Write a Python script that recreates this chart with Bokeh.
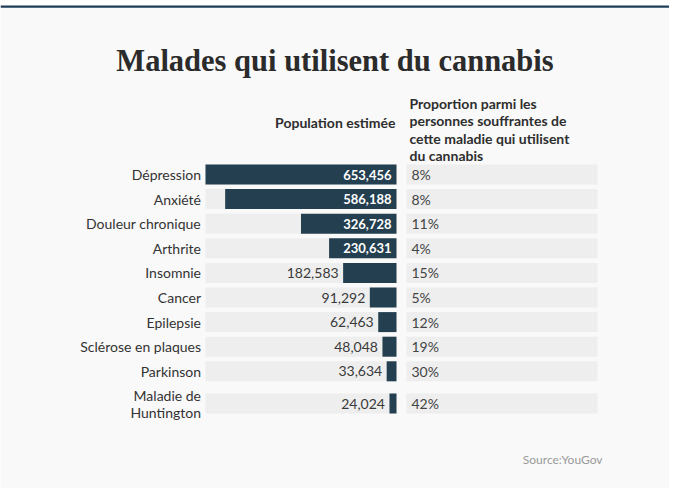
from bokeh.plotting import figure
from bokeh.models import Range1d
from bokeh.core.properties import value
from bokeh.embed import file_html
from bokeh.resources import INLINE

# ---- data ----
categories = ["Dépression", "Anxiété", "Douleur chronique", "Arthrite", "Insomnie",
              "Cancer", "Epilepsie", "Sclérose en plaques", "Parkinson",
              "Maladie de\nHuntington"]
population = [653456, 586188, 326728, 230631, 182583, 91292, 62463, 48048, 33634, 24024]
proportion = [8, 8, 11, 4, 15, 5, 12, 19, 30, 42]
title = "Malades qui utilisent du cannabis"
header_left = "Population estimée"
header_right = ["Proportion parmi les", "personnes souffrantes de",
                "cette maladie qui utilisent", "du cannabis"]
source = "Source:YouGov"

# ---- layout (pixel positions inside the figure) ----
W, H = 669, 488
zero_px = 396          # where bars end (value 0)
bar_px = 191           # pixel length of the largest bar
vmax = max(population)
ppu = bar_px / vmax


def xd(px):
    """pixel x -> data x (reversed value axis)"""
    return (zero_px - px) / ppu


p = figure(width=W, height=H, output_backend="svg", toolbar_location=None,
           x_range=Range1d(xd(0), xd(W)), y_range=Range1d(H, 0),
           min_border=0, min_border_left=0, min_border_right=0,
           min_border_top=0, min_border_bottom=0)
p.axis.visible = False
p.grid.visible = False
p.outline_line_color = None
p.background_fill_color = "#f9f9f9"
p.border_fill_color = "#f9f9f9"

FONT = value("Lato")
DARK = "#333333"
BAR = "#243f4f"
BG = "#eeeeee"

# white strip above the top rule, then the rule
p.quad(left=[xd(0)], right=[xd(W)], top=[0], bottom=[5],
       fill_color="white", line_color=None)
p.quad(left=[xd(0)], right=[xd(W)], top=[5], bottom=[7.2],
       fill_color="#1f3d58", line_color=None)

# title
p.text(x=[xd(334.5)], y=[60], text=[title], text_font=value("Liberation Serif"),
       text_font_style="bold", text_font_size="30.5px", text_align="center",
       text_baseline="alphabetic", text_color="#2b2b2b")

# headers
p.text(x=[xd(395)], y=[122], text=[header_left], text_font=FONT,
       text_font_size="14px", text_align="right", text_baseline="middle",
       text_color="#2e2e2e", text_font_style="bold")
p.text(x=[xd(409)] * len(header_right),
       y=[103 + 17.4 * i for i in range(len(header_right))],
       text=header_right, text_font=FONT, text_font_size="14px",
       text_align="left", text_baseline="alphabetic", text_color="#2e2e2e",
       text_font_style="bold")

# row positions
pitch = 24.6
ys = []
for i, c in enumerate(categories):
    y = 174 + i * pitch
    if "\n" in c:
        y += 7.6
    ys.append(y)

n = len(categories)
# background bars
p.hbar(y=ys, left=[vmax] * n, right=[0] * n, height=20, fill_color=BG, line_color=None)
p.hbar(y=ys, left=[xd(406)] * n, right=[xd(597)] * n, height=20, fill_color=BG, line_color=None)
# value bars
p.hbar(y=ys, left=population, right=[0] * n, height=20, fill_color=BAR, line_color=None)

# category labels
lab_y, lab_t = [], []
for y, c in zip(ys, categories):
    if "\n" in c:
        a, b = c.split("\n")
        lab_y += [y - 8.5, y + 8.5]
        lab_t += [a, b]
    else:
        lab_y.append(y)
        lab_t.append(c)
p.text(x=[xd(200.5)] * len(lab_t), y=lab_y, text=lab_t, text_font=FONT,
       text_font_size="14px", text_align="right", text_baseline="middle",
       text_color=DARK)

# value labels
inside = [v for v in population if v * ppu > 60]
in_y = [y for y, v in zip(ys, population) if v * ppu > 60]
out_v = [v for v in population if v * ppu <= 60]
out_y = [y for y, v in zip(ys, population) if v * ppu <= 60]
pad = 5 / ppu
p.text(x=[pad] * len(inside), y=in_y, text=[f"{v:,}" for v in inside], text_font=FONT,
       text_font_size="13px", text_font_style="bold", text_align="right",
       text_baseline="middle", text_color="white")
p.text(x=[v + 4.5 / ppu for v in out_v], y=out_y, text=[f"{v:,}" for v in out_v],
       text_font=FONT, text_font_size="14px", text_align="right",
       text_baseline="middle", text_color="#3a3a3a")

# proportion labels
p.text(x=[xd(411)] * n, y=ys, text=[f"{v}%" for v in proportion], text_font=FONT,
       text_font_size="14px", text_align="left", text_baseline="middle",
       text_color="#444444")

# source
p.text(x=[xd(602)], y=[459], text=[source], text_font=FONT,
       text_font_size="12px", text_align="right", text_baseline="middle",
       text_color="#999999")

open("out.html", "w").write(file_html(p, INLINE))
